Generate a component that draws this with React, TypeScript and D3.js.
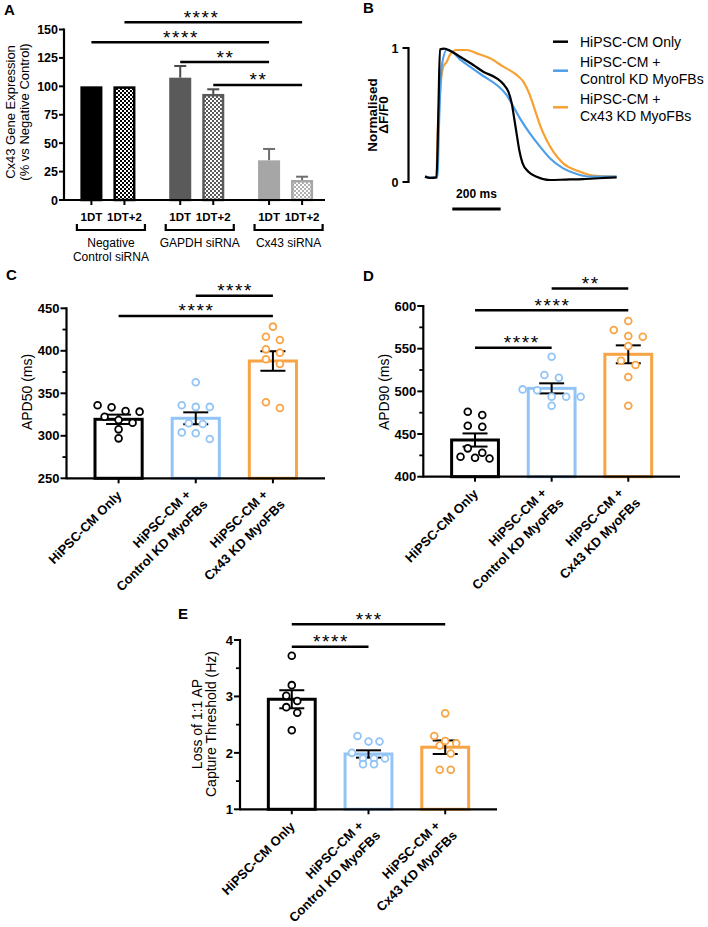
import React from 'react';
import * as d3 from 'd3';

const FONT = "'Liberation Sans', Arial, Helvetica, sans-serif";

// ---------------- Panel A data ----------------
const aGroups = ['Negative Control siRNA', 'GAPDH siRNA', 'Cx43 siRNA'];
const aGroupLabelLines = [['Negative', 'Control siRNA'], ['GAPDH siRNA'], ['Cx43 siRNA']];
const aTimepoints = ['1DT', '1DT+2'];
const aNegative = [100, 100];
const aGapdh = [107.6, 93.3];
const aCx43 = [34.9, 17.6];
const aNegativeSem = [0, 0];
const aGapdhSem = [10.3, 4.1];
const aCx43Sem = [10.0, 2.9];
const aYTicks = [0, 25, 50, 75, 100, 125, 150];
const aComparisons = [
  { from: [0, 1], to: [2, 1], stars: '****', level: 156.3, at: 0.43 },
  { from: [0, 0], to: [2, 0], stars: '****', level: 138.7, at: 0.5 },
  { from: [1, 0], to: [2, 0], stars: '**', level: 121.4, at: 0.5 },
  { from: [1, 1], to: [2, 1], stars: '**', level: 101.2, at: 0.5 },
];

// ---------------- Panel B data ----------------
const bLegend = [['HiPSC-CM Only'], ['HiPSC-CM +', 'Control KD MyoFBs'], ['HiPSC-CM +', 'Cx43 KD MyoFBs']];
const bYTicks = [0, 1];
const bScaleBarMs = 200;
const bTraceOnly = [
  [0, 0.04], [20, 0.03], [48, 0.035], [55, 0.5], [62, 0.99], [80, 0.995], [103, 0.98], [145, 0.935],
  [200, 0.873], [241, 0.823], [297, 0.774], [324, 0.731], [345, 0.674], [359, 0.587], [368, 0.488],
  [379, 0.363], [390, 0.239], [404, 0.139], [428, 0.077], [462, 0.04], [517, 0.015], [580, 0.018],
  [655, 0.022], [720, 0.028], [793, 0.035],
];
const bTraceControlKD = [
  [0, 0.04], [20, 0.035], [51, 0.035], [59, 0.49], [69, 0.86], [90, 0.985], [110, 0.975], [145, 0.915],
  [186, 0.861], [241, 0.791], [297, 0.724], [338, 0.649], [366, 0.562], [393, 0.475], [434, 0.363],
  [476, 0.264], [517, 0.177], [572, 0.102], [628, 0.06], [683, 0.04], [740, 0.04], [793, 0.04],
];
const bTraceCx43KD = [
  [0, 0.04], [20, 0.035], [46, 0.035], [55, 0.49], [65, 0.74], [76, 0.86], [90, 0.898], [103, 0.948],
  [131, 0.985], [172, 0.985], [214, 0.96], [269, 0.923], [324, 0.861], [379, 0.799], [407, 0.749],
  [434, 0.649], [455, 0.537], [476, 0.425], [503, 0.313], [531, 0.226], [572, 0.139], [628, 0.085],
  [683, 0.052], [740, 0.042], [793, 0.04],
];

// ---------------- Panels C, D, E data ----------------
const cats = ['HiPSC-CM Only', 'HiPSC-CM + Control KD MyoFBs', 'HiPSC-CM + Cx43 KD MyoFBs'];
const catLabelLines = [['HiPSC-CM Only'], ['HiPSC-CM +', 'Control KD MyoFBs'], ['HiPSC-CM +', 'Cx43 KD MyoFBs']];

const apd50Means = [319.4, 320.6, 388.0];
const apd50Sems = [5.5, 7.0, 11.5];
const apd50Only = [333.5, 336, 328.4, 329.2, 322.5, 315.5, 318.6, 307.6, 297];
const apd50ControlKD = [363, 336, 334, 334, 314.7, 313.9, 304, 303, 296.3];
const apd50Cx43KD = [428.4, 412.7, 416.6, 397.8, 401.7, 384.5, 390, 339.4, 332.7];
const apd50Ticks = [250, 300, 350, 400, 450];
const apd50Minor = [275, 325, 375, 425];
const apd50Comparisons = [
  { a: 0, b: 2, level: 441, stars: '****', at: 0.5 },
  { a: 1, b: 2, level: 464.8, stars: '****', at: 0.5 },
];

const apd90Means = [443.0, 503.5, 543.4];
const apd90Sems = [7.7, 5.9, 10.5];
const apd90Only = [476.1, 472.2, 458.5, 459.7, 433.2, 428, 421.4, 422.2, 423.4];
const apd90ControlKD = [540.6, 516, 519.1, 501.2, 502.3, 493.7, 493.7, 493.7, 483.1];
const apd90Cx43KD = [582.4, 571.9, 564.8, 564, 553.1, 530.8, 535.9, 516.8, 483.1];
const apd90Ticks = [400, 450, 500, 550, 600];
const apd90Minor = [425, 475, 525, 575];
const apd90Comparisons = [
  { a: 0, b: 1, level: 551, stars: '****', at: 0.6 },
  { a: 0, b: 2, level: 594.9, stars: '****', at: 0.5 },
  { a: 1, b: 2, level: 620.6, stars: '**', at: 0.5 },
];

const lossMeans = [2.95, 1.98, 2.10];
const lossSems = [0.16, 0.065, 0.12];
const lossOnly = [3.72, 3.2, 3.01, 2.92, 2.81, 2.71, 2.4];
const lossControlKD = [2.3, 2.2, 2.2, 2.0, 1.9, 1.9, 1.9, 1.8, 1.8];
const lossCx43KD = [2.7, 2.3, 2.21, 2.17, 2.13, 1.99, 1.7, 1.7];
const lossTicks = [1, 2, 3, 4];
const lossMinor = [1.5, 2.5, 3.5];
const lossComparisons = [
  { a: 0, b: 1, level: 3.88, stars: '****', at: 0.5 },
  { a: 0, b: 2, level: 4.28, stars: '***', at: 0.5 },
];

// ---------------- styles ----------------
const SERIES_COLORS = ['#000000', '#93c4f6', '#f8a444'];
const TRACE_COLORS = ['#000000', '#4f9fe8', '#f7a033'];
const A_FILLS = [['#000000', 'url(#chkBlack)'], ['#5a5a5a', 'url(#chkDark)'], ['#a6a6a6', 'url(#chkLight)']];
const A_STROKES = ['#000000', '#5a5a5a', '#a6a6a6'];
const A_ERR = ['#000000', '#4a4a4a', '#6e6e6e'];

function Stars({ x, y, s }: { x: number; y: number; s: string }) {
  return (
    <text x={x + 0.8} y={y + 1.5} textAnchor="middle" fontSize={19} letterSpacing={1.6} fill="#000">
      {s}
    </text>
  );
}

function PanelLetter({ x, y, t }: { x: number; y: number; t: string }) {
  return (
    <text x={x} y={y} fontSize={15} fontWeight="bold" fill="#000">
      {t}
    </text>
  );
}

function PanelA() {
  const yA = d3.scaleLinear().domain([0, 150]).range([200, 29.5]);
  const gx = d3.scaleBand().domain(aGroups).range([66, 327.5]).paddingInner(0.2563).paddingOuter(0.1);
  const sx = d3.scaleBand().domain(aTimepoints).range([0, gx.bandwidth()]).paddingInner(1 / 3).paddingOuter(1 / 6);
  const means = [aNegative, aGapdh, aCx43];
  const sems = [aNegativeSem, aGapdhSem, aCx43Sem];
  const barX = (g: number, t: number) => (gx(aGroups[g]) as number) + (sx(aTimepoints[t]) as number);
  const barC = (g: number, t: number) => barX(g, t) + sx.bandwidth() / 2;
  const bw = sx.bandwidth();
  const axisX = 64;
  const axisY = yA(0);
  return (
    <g>
      <PanelLetter x={4} y={15} t="A" />
      {means.map((arr, g) =>
        arr.map((m, t) => (
          <g key={`a${g}${t}`}>
            {sems[g][t] > 0 && (
              <g stroke={A_ERR[g]} strokeWidth={2}>
                <line x1={barC(g, t)} x2={barC(g, t)} y1={yA(m)} y2={yA(m + sems[g][t])} />
                <line x1={barC(g, t) - 6} x2={barC(g, t) + 6} y1={yA(m + sems[g][t])} y2={yA(m + sems[g][t])} />
              </g>
            )}
            <rect
              x={barX(g, t) + 1.25}
              y={yA(m) + 1.25}
              width={bw - 2.5}
              height={axisY - yA(m) - 1.25}
              fill={A_FILLS[g][t]}
              stroke={A_STROKES[g]}
              strokeWidth={2.5}
            />
          </g>
        ))
      )}
      <line x1={axisX} x2={axisX} y1={yA(150) - 1} y2={axisY + 1} stroke="#000" strokeWidth={2.2} />
      <line x1={axisX} x2={325} y1={axisY} y2={axisY} stroke="#000" strokeWidth={2.2} />
      {aYTicks.map((v) => (
        <g key={`ayt${v}`}>
          <line x1={axisX - 5} x2={axisX} y1={yA(v)} y2={yA(v)} stroke="#000" strokeWidth={2} />
          <text x={axisX - 6} y={yA(v)} dy="0.36em" textAnchor="end" fontSize={12.5} fontWeight="bold">
            {v}
          </text>
        </g>
      ))}
      {means.map((arr, g) =>
        arr.map((_, t) => (
          <g key={`axt${g}${t}`}>
            <line x1={barC(g, t)} x2={barC(g, t)} y1={axisY} y2={axisY + 5} stroke="#000" strokeWidth={2} />
            <text x={barC(g, t)} y={221} textAnchor="middle" fontSize={11.5} fontWeight="bold">
              {aTimepoints[t]}
            </text>
          </g>
        ))
      )}
      {aGroups.map((gName, g) => {
        const x1 = (gx(gName) as number) + 2;
        const x2 = (gx(gName) as number) + gx.bandwidth() + 4;
        const mid = (x1 + x2) / 2;
        const lines = aGroupLabelLines[g];
        return (
          <g key={`ag${g}`}>
            <path d={`M${x1},224 V230 H${x2} V224`} fill="none" stroke="#000" strokeWidth={2.2} />
            {lines.map((l, i) => (
              <text key={i} x={mid} y={246.5 + i * 14.5} textAnchor="middle" fontSize={12}>
                {l}
              </text>
            ))}
          </g>
        );
      })}
      <text transform="translate(15,112) rotate(-90)" textAnchor="middle" fontSize={13}>
        Cx43 Gene Expression
      </text>
      <text transform="translate(29,112) rotate(-90)" textAnchor="middle" fontSize={13}>
        (% vs Negative Control)
      </text>
      {aComparisons.map((c, i) => {
        const x1 = barC(c.from[0], c.from[1]);
        const x2 = barC(c.to[0], c.to[1]);
        const yy = yA(c.level);
        return (
          <g key={`acmp${i}`}>
            <line x1={x1} x2={x2} y1={yy} y2={yy} stroke="#000" strokeWidth={2.5} />
            <Stars x={x1 + (x2 - x1) * c.at} y={yy} s={c.stars} />
          </g>
        );
      })}
    </g>
  );
}

function PanelB() {
  const x = d3.scaleLinear().domain([0, 800]).range([425, 618.3]);
  const y = d3.scaleLinear().domain([0, 1]).range([182, 48]);
  const line = d3
    .line()
    .x((d: any) => x(d[0]))
    .y((d: any) => y(d[1]))
    .curve(d3.curveMonotoneX);
  const traces = [bTraceOnly, bTraceControlKD, bTraceCx43KD];
  const axisX = 408.5;
  const legendY = [41.7, 70.7, 107.3];
  const sbStart = 113;
  return (
    <g>
      <PanelLetter x={363} y={13} t="B" />
      {[2, 1, 0].map((i) => (
        <path key={`tr${i}`} d={line(traces[i] as any) as string} fill="none" stroke={TRACE_COLORS[i]} strokeWidth={2.2} />
      ))}
      <line x1={axisX} x2={axisX} y1={y(1) - 1} y2={y(0) + 1} stroke="#000" strokeWidth={2.2} />
      {bYTicks.map((v) => (
        <g key={`byt${v}`}>
          <line x1={axisX - 6} x2={axisX} y1={y(v)} y2={y(v)} stroke="#000" strokeWidth={2} />
          <text x={axisX - 10} y={y(v)} dy="0.36em" textAnchor="end" fontSize={12.5} fontWeight="bold">
            {v}
          </text>
        </g>
      ))}
      <text transform="translate(377,115) rotate(-90)" textAnchor="middle" fontSize={13.5} fontWeight="bold">
        Normalised
      </text>
      <text transform="translate(388,115) rotate(-90)" textAnchor="middle" fontSize={13.5} fontWeight="bold">
        ΔF/F0
      </text>
      <line x1={x(sbStart)} x2={x(sbStart + bScaleBarMs)} y1={209} y2={209} stroke="#000" strokeWidth={3} />
      <text x={(x(sbStart) + x(sbStart + bScaleBarMs)) / 2} y={197.5} textAnchor="middle" fontSize={12} fontWeight="bold">
        {bScaleBarMs} ms
      </text>
      {bLegend.map((lines, i) => (
        <g key={`bl${i}`}>
          <line x1={553} x2={568} y1={legendY[i]} y2={legendY[i]} stroke={TRACE_COLORS[i]} strokeWidth={2.5} />
          {lines.map((l, j) => (
            <text
              key={j}
              x={580}
              y={legendY[i] + (j - (lines.length - 1) / 2) * 17.5}
              dy="0.36em"
              fontSize={14}
            >
              {l}
            </text>
          ))}
        </g>
      ))}
    </g>
  );
}

function swarmOffsets(vals: number[], yOf: (v: number) => number, spacing: number, tol: number) {
  const idx = vals.map((_, i) => i).sort((a, b) => vals[b] - vals[a]);
  const off = new Array(vals.length).fill(0);
  let row: number[] = [];
  const flush = () => {
    const n = row.length;
    row.forEach((k, j) => {
      off[k] = (j - (n - 1) / 2) * spacing;
    });
    row = [];
  };
  for (const k of idx) {
    if (row.length && Math.abs(yOf(vals[k]) - yOf(vals[row[0]])) > tol) flush();
    row.push(k);
  }
  flush();
  return off;
}

type Layout = {
  letter: string;
  letterX: number;
  letterY: number;
  axisX: number;
  axisEnd: number;
  yTop: number;
  yBot: number;
  yLabel: string[];
  yLabelX: number[];
  yLabelCY: number;
  spacing: number;
};

function ScatterPanel(props: {
  L: Layout;
  domain: [number, number];
  ticks: number[];
  minor: number[];
  means: number[];
  sems: number[];
  points: number[][];
  comps: { a: number; b: number; level: number; stars: string; at: number }[];
}) {
  const { L, domain, ticks, minor, means, sems, points, comps } = props;
  const y = d3.scaleLinear().domain(domain).range([L.yBot, L.yTop]);
  const x = d3.scaleBand().domain(cats).range([L.axisX, L.axisEnd]).paddingInner(0.35).paddingOuter(0.35);
  const bw = x.bandwidth();
  const cx = (i: number) => (x(cats[i]) as number) + bw / 2;
  return (
    <g>
      <PanelLetter x={L.letterX} y={L.letterY} t={L.letter} />
      {means.map((m, i) => (
        <rect
          key={`bar${i}`}
          x={(x(cats[i]) as number) + 1.5}
          y={y(m)}
          width={bw - 3}
          height={L.yBot - y(m)}
          fill="#fff"
          stroke={SERIES_COLORS[i]}
          strokeWidth={3}
        />
      ))}
      {means.map((m, i) => (
        <g key={`err${i}`} stroke="#000" strokeWidth={2}>
          <line x1={cx(i)} x2={cx(i)} y1={y(m - sems[i])} y2={y(m + sems[i])} />
          <line x1={cx(i) - 12.5} x2={cx(i) + 12.5} y1={y(m - sems[i])} y2={y(m - sems[i])} />
          <line x1={cx(i) - 12.5} x2={cx(i) + 12.5} y1={y(m + sems[i])} y2={y(m + sems[i])} />
        </g>
      ))}
      {points.map((arr, i) => {
        const off = swarmOffsets(arr, y, L.spacing, 8);
        return arr.map((v, k) => (
          <circle
            key={`pt${i}-${k}`}
            cx={cx(i) + off[k]}
            cy={y(v)}
            r={3.4}
            fill="#fff"
            stroke={SERIES_COLORS[i]}
            strokeWidth={1.8}
          />
        ));
      })}
      <line x1={L.axisX} x2={L.axisX} y1={L.yTop - 1} y2={L.yBot + 1} stroke="#000" strokeWidth={2.2} />
      <line x1={L.axisX} x2={L.axisEnd} y1={L.yBot} y2={L.yBot} stroke="#000" strokeWidth={2.2} />
      {ticks.map((v) => (
        <g key={`yt${v}`}>
          <line x1={L.axisX - 6} x2={L.axisX} y1={y(v)} y2={y(v)} stroke="#000" strokeWidth={2} />
          <text x={L.axisX - 7} y={y(v)} dy="0.36em" textAnchor="end" fontSize={13} fontWeight="bold">
            {v}
          </text>
        </g>
      ))}
      {minor.map((v) => (
        <line key={`ym${v}`} x1={L.axisX - 4} x2={L.axisX} y1={y(v)} y2={y(v)} stroke="#000" strokeWidth={1.8} />
      ))}
      {cats.map((c, i) => {
        const lines = catLabelLines[i];
        return (
          <g key={`xt${i}`}>
            <line x1={cx(i)} x2={cx(i)} y1={L.yBot} y2={L.yBot + 5} stroke="#000" strokeWidth={2} />
            <g transform={`translate(${cx(i)},${L.yBot}) rotate(-45)`}>
              {lines.length === 1 ? (
                <text x={-10} y={15.5} textAnchor="end" fontSize={13} fontWeight="bold">
                  {lines[0]}
                </text>
              ) : (
                lines.map((l, j) => (
                  <text key={j} x={j === 0 ? -15 : -10} y={9 + j * 19} textAnchor="end" fontSize={13} fontWeight="bold">
                    {l}
                  </text>
                ))
              )}
            </g>
          </g>
        );
      })}
      {L.yLabel.map((t, j) => (
        <text
          key={`yl${j}`}
          transform={`translate(${L.yLabelX[j]},${L.yLabelCY}) rotate(-90)`}
          textAnchor="middle"
          fontSize={14}
        >
          {t}
        </text>
      ))}
      {comps.map((c, k) => {
        const x1 = cx(c.a);
        const x2 = cx(c.b);
        const yy = y(c.level);
        return (
          <g key={`cmp${k}`}>
            <line x1={x1} x2={x2} y1={yy} y2={yy} stroke="#000" strokeWidth={2.5} />
            <Stars x={x1 + (x2 - x1) * c.at} y={yy} s={c.stars} />
          </g>
        );
      })}
    </g>
  );
}

const layoutC: Layout = {
  letter: 'C', letterX: 6, letterY: 280, axisX: 66.5, axisEnd: 325, yTop: 308.3, yBot: 478.3,
  yLabel: ['APD50 (ms)'], yLabelX: [32], yLabelCY: 392, spacing: 14,
};
const layoutD: Layout = {
  letter: 'D', letterX: 363, letterY: 280.5, axisX: 423.3, axisEnd: 680, yTop: 306, yBot: 476.7,
  yLabel: ['APD90 (ms)'], yLabelX: [389], yLabelCY: 392, spacing: 14.5,
};
const layoutE: Layout = {
  letter: 'E', letterX: 178, letterY: 619, axisX: 240, axisEnd: 497, yTop: 640, yBot: 809.3,
  yLabel: ['Loss of 1:1 AP', 'Capture Threshold (Hz)'], yLabelX: [201.5, 215.5], yLabelCY: 724, spacing: 11,
};

export default function App() {
  return (
    <svg
      width={708}
      height={927}
      viewBox="0 0 708 927"
      style={{ position: 'absolute', left: 0, top: 0, background: '#fff' }}
      fontFamily={FONT}
    >
      <defs>
        <pattern id="chkBlack" width={4} height={4} patternUnits="userSpaceOnUse">
          <rect width={4} height={4} fill="#fff" />
          <rect width={2} height={2} fill="#000" />
          <rect x={2} y={2} width={2} height={2} fill="#000" />
        </pattern>
        <pattern id="chkDark" width={4} height={4} patternUnits="userSpaceOnUse">
          <rect width={4} height={4} fill="#fff" />
          <rect width={2} height={2} fill="#5a5a5a" />
          <rect x={2} y={2} width={2} height={2} fill="#5a5a5a" />
        </pattern>
        <pattern id="chkLight" width={4} height={4} patternUnits="userSpaceOnUse">
          <rect width={4} height={4} fill="#fff" />
          <rect width={2} height={2} fill="#b0b0b0" />
          <rect x={2} y={2} width={2} height={2} fill="#b0b0b0" />
        </pattern>
      </defs>
      <rect width={708} height={927} fill="#fff" />
      <PanelA />
      <PanelB />
      <ScatterPanel
        L={layoutC}
        domain={[250, 450]}
        ticks={apd50Ticks}
        minor={apd50Minor}
        means={apd50Means}
        sems={apd50Sems}
        points={[apd50Only, apd50ControlKD, apd50Cx43KD]}
        comps={apd50Comparisons}
      />
      <ScatterPanel
        L={layoutD}
        domain={[400, 600]}
        ticks={apd90Ticks}
        minor={apd90Minor}
        means={apd90Means}
        sems={apd90Sems}
        points={[apd90Only, apd90ControlKD, apd90Cx43KD]}
        comps={apd90Comparisons}
      />
      <ScatterPanel
        L={layoutE}
        domain={[1, 4]}
        ticks={lossTicks}
        minor={lossMinor}
        means={lossMeans}
        sems={lossSems}
        points={[lossOnly, lossControlKD, lossCx43KD]}
        comps={lossComparisons}
      />
    </svg>
  );
}
